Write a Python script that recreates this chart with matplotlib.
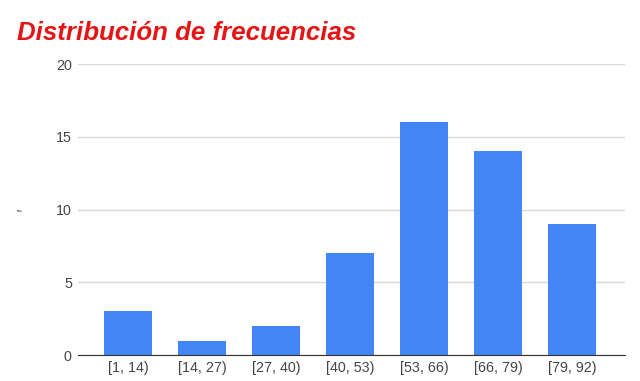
import matplotlib
matplotlib.use('Agg')
import matplotlib.pyplot as plt
from matplotlib import rcParams

rcParams['font.family'] = 'Liberation Sans'

intervalos = ['[1, 14)', '[14, 27)', '[27, 40)', '[40, 53)', '[53, 66)', '[66, 79)', '[79, 92)']
frecuencias = [3, 1, 2, 7, 16, 14, 9]
yticks = [0, 5, 10, 15, 20]

fig = plt.figure(figsize=(6.4, 3.81), dpi=100)
ax = fig.add_axes([0.122, 0.068, 0.855, 0.764])

x = list(range(len(intervalos)))
ax.bar(x, frecuencias, width=0.65, color='#4285f4', zorder=3)

ax.set_xlim(-0.68, 6.72)
ax.set_ylim(0, 20)
ax.set_yticks(yticks)
ax.set_xticks(x)
ax.set_xticklabels(intervalos)
ax.yaxis.grid(True, color='#d9d9d9', linewidth=1, zorder=0)
for s in ['top', 'right', 'left']:
    ax.spines[s].set_visible(False)
ax.spines['bottom'].set_color('#333333')
ax.spines['bottom'].set_zorder(4)
ax.tick_params(axis='both', length=0, labelsize=10.3, labelcolor='#444444')
ax.tick_params(axis='y', pad=4.5)
ax.tick_params(axis='x', pad=4)

fig.text(0.034, 0.45, 'f', rotation=90, fontsize=5, color='#222222', ha='center', va='center')
fig.text(0.027, 0.895, 'Distribución de frecuencias', fontsize=18.6, fontweight='bold',
         style='italic', color='#e51515', ha='left', va='baseline')

fig.savefig('out.png', dpi=100)
